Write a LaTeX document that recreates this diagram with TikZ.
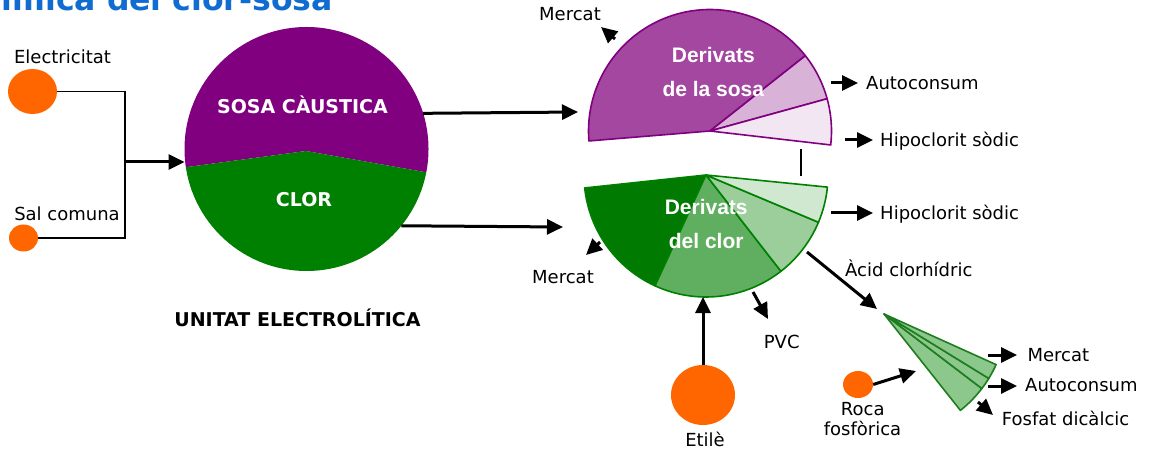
\documentclass[tikz,border=0pt]{standalone}
\usepackage{fontspec}
\setmainfont{DejaVu Sans}
\newfontfamily\derfont{Liberation Sans}
\usetikzlibrary{positioning,arrows.meta,shapes.geometric}

\definecolor{sosa}{RGB}{128,0,128}
\definecolor{clor}{RGB}{0,128,0}
\definecolor{sosaA}{RGB}{163,71,160}
\definecolor{sosaB}{RGB}{216,178,215}
\definecolor{sosaC}{RGB}{243,230,243}
\definecolor{clorA}{RGB}{0,122,0}
\definecolor{clorB}{RGB}{96,175,96}
\definecolor{clorC}{RGB}{155,206,155}
\definecolor{clorD}{RGB}{208,232,208}
\definecolor{fanfill}{RGB}{140,199,140}
\definecolor{fanline}{RGB}{30,125,30}
\definecolor{raw}{RGB}{255,102,0}
\definecolor{titleblue}{RGB}{16,108,208}

\begin{document}
\begin{tikzpicture}[
    x=1pt, y=1pt,
    src/.style={ellipse, fill=raw, inner sep=0},
    lbl/.style={anchor=base, inner sep=0, font=\fontsize{18}{20}\selectfont},
    lblw/.style={lbl, anchor=base west},
    caps/.style={anchor=base, inner sep=0, font=\bfseries\fontsize{19}{21}\selectfont},
    derlbl/.style={anchor=base, inner sep=0, text=white,
      font=\derfont\bfseries\fontsize{21}{23}\selectfont},
    flow/.style={line width=3, -{Triangle[length=16pt,width=15pt]}},
    link/.style={line width=1.8},
    sector/.style={line width=1.6, line join=round}]
  \useasboundingbox (0,0) rectangle (1150,450);

  \node[anchor=base east, inner sep=0, text=titleblue,
    font=\bfseries\fontsize{31.5}{34}\selectfont] (titol) at (333,439) {Química del clor-sosa};

  % primeres materies
  \node[src, minimum width=49, minimum height=45] (elec) at (32.5,358.5) {};
  \node[lbl] (elec-lbl) at (62.5,386.5) {Electricitat};
  \node[src, minimum width=29, minimum height=27] (sal) at (23.5,212) {};
  \node[lbl] (sal-lbl) at (67,229) {Sal comuna};
  \coordinate (join) at (125,288);

  \node[circle, minimum size=244, inner sep=0, outer sep=0] (unitat) at (306.5,301) {};
  \begin{scope}
    \clip (unitat.center) circle[radius=122];
    \fill[sosa] (180,282) -- (306,299) -- (430,277) |- (180,425) -- cycle;
    \fill[clor] (180,282) -- (306,299) -- (430,277) |- (180,175) -- cycle;
  \end{scope}
  \node[caps, text=white] (sosa-txt) at (302.5,336.7) {SOSA CÀUSTICA};
  \node[caps, text=white] (clor-txt) at (304,243.3) {CLOR};
  \node[caps] (unitat-txt) at (297.5,124) {UNITAT ELECTROLÍTICA};

  \draw[link] (elec.east) -| (join) |- (sal.east);
  \draw[flow] (join) -- (join -| unitat.west);

  % derivats
  \coordinate (sosa-c) at (710,319);
  \coordinate (clor-c) at (706,275);
  \coordinate (fan-c) at (884,136);
  \foreach \a/\b/\c in {38.3/184.7/sosaA, 15.4/38.3/sosaB, -6.6/15.4/sosaC}
  \filldraw[sector, draw=sosa, fill=\c] (sosa-c) -- ++(\a:121.5)
    arc[start angle=\a, end angle=\b, radius=121.5] -- cycle;
  \foreach \a/\b/\c in {186.1/245.3/clorA, 245.3/307.9/clorB,
    307.9/337.2/clorC, 337.2/354.3/clorD}
  \filldraw[sector, draw=clor, fill=\c] (clor-c) -- ++(\a:122)
    arc[start angle=\a, end angle=\b, radius=122] -- cycle;
  \foreach \a/\b in {-51.6/-37.3, -37.3/-31.6, -31.6/-24.3}
  \filldraw[sector, draw=fanline, fill=fanfill] (fan-c) -- ++(\a:123)
    arc[start angle=\a, end angle=\b, radius=123] -- cycle;

  \node[derlbl] (sosa-d1) at (713.3,387.7) {Derivats};
  \node[derlbl] (sosa-d2) at (713.3,353.3) {de la sosa};
  \node[derlbl] (clor-d1) at (706.2,235) {Derivats};
  \node[derlbl] (clor-d2) at (706.2,201.7) {del clor};

  \node[src, minimum width=64, minimum height=60] (etile) at (703,55) {};
  \node[lbl] (etile-lbl) at (705,3.3) {Etilè};
  \node[src, minimum width=30, minimum height=27] (roca) at (858,65.5) {};
  \node[lbl] (roca-lbl) at (862.8,35) {Roca};
  \node[lbl] (fosf-lbl) at (862.5,14.3) {fosfòrica};

  % sortides
  \node[lbl] (ms-lbl) at (570,429.3) {Mercat};
  \node[lblw] (as-lbl) at (866,360.7) {Autoconsum};
  \node[lblw] (hs-lbl) at (880,303.3) {Hipoclorit sòdic};
  \node[lblw] (hc-lbl) at (880,230) {Hipoclorit sòdic};
  \node[lblw] (ac-lbl) at (845,173.3) {Àcid clorhídric};
  \node[lbl] (mc-lbl) at (563,166) {Mercat};
  \node[lbl] (pvc-lbl) at (781.7,102) {PVC};
  \node[lblw] (mf-lbl) at (1027.3,88.3) {Mercat};
  \node[lblw] (af-lbl) at (1025,58.3) {Autoconsum};
  \node[lblw] (ff-lbl) at (1001.7,25) {Fosfat dicàlcic};

  \foreach \n/\p in {ms-a/{615,411}, ms-b/{601,423}, as-a/{831,367}, as-b/{858,367},
    hs-a/{845,310}, hs-b/{873,310}, hc-a/{831,237}, hc-b/{873,237},
    mc-a/{600,208}, mc-b/{586,195}, ac-a/{807,198}, ac-b/{877,141},
    pvc-a/{753,158}, pvc-b/{768,131}, et-b/{703,153}, roca-b/{916,79},
    mf-a/{988,95}, mf-b/{1017,95}, af-a/{988,64}, af-b/{1017,64},
    ff-a/{978,48}, ff-b/{993,35}, sosa-in/{578,338}, clor-in/{563,223},
    hipo-a/{801,301}, hipo-b/{801,274}}
  \coordinate (\n) at (\p);

  \draw[flow] (unitat.17.6) -- (sosa-in);
  \draw[flow] (unitat.-39.7) -- (clor-in);
  \foreach \a/\b in {ms-a/ms-b, as-a/as-b, hs-a/hs-b, hc-a/hc-b, mc-a/mc-b,
    ac-a/ac-b, pvc-a/pvc-b, etile.north/et-b, roca.east/roca-b,
    mf-a/mf-b, af-a/af-b, ff-a/ff-b}
  \draw[flow] (\a) -- (\b);
  \draw[link] (hipo-a) -- (hipo-b);
\end{tikzpicture}
\end{document}
